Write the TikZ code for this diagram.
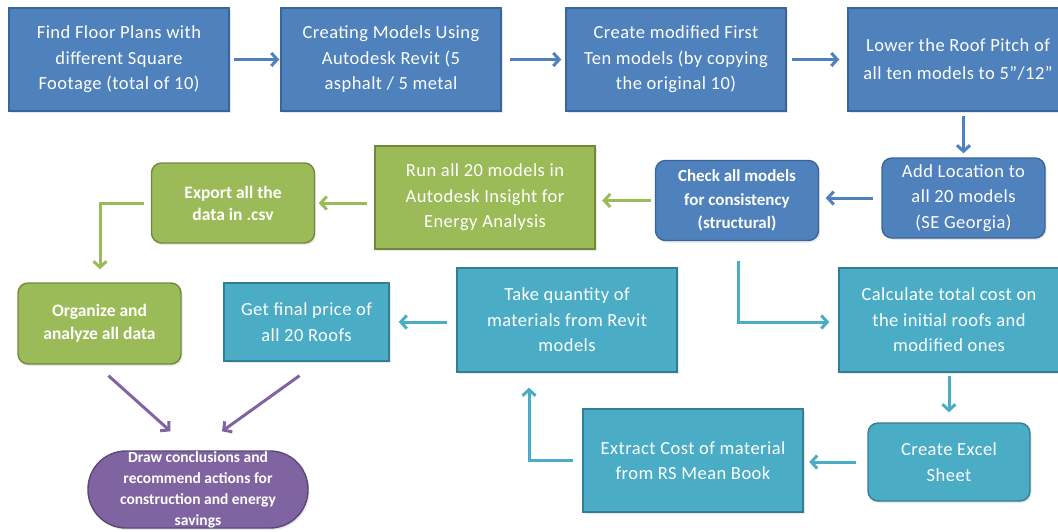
\documentclass[tikz,border=0pt]{standalone}
\usepackage{fontspec}
\setmainfont{Carlito}[LetterSpace=2.5]
\newfontfamily\boldfamily{Carlito}
\usepackage{xcolor}
\usetikzlibrary{arrows.meta,positioning,calc,shadows}
\definecolor{FlowBlue}{HTML}{4F81BD}
\definecolor{FlowBlueEdge}{HTML}{3A659A}
\definecolor{FlowGreen}{HTML}{9BBB59}
\definecolor{FlowGreenEdge}{HTML}{71893F}
\definecolor{FlowTeal}{HTML}{4BACC6}
\definecolor{FlowTealEdge}{HTML}{357D91}
\definecolor{FlowPurple}{HTML}{8064A2}
\definecolor{FlowPurpleEdge}{HTML}{5C4776}
\newcommand{\mainboxfont}{\fontsize{18.5}{25.5}\selectfont}
\newcommand{\boldboxfont}{\boldfamily\bfseries\fontsize{17}{23.5}\selectfont}
\newcommand{\flowbox}[4]{%
  \node[draw=#1Edge,fill=#1,line width=1.4pt,text=white,align=center,
        inner sep=0pt,minimum width=220pt,minimum height=103pt,
        drop shadow={opacity=0.18,shadow xshift=1.5pt,shadow yshift=-2pt},
        font=\mainboxfont,#4] (#2) {#3};%
}
\tikzset{
  flowarrow/.style={-{Straight Barb[length=6pt,width=13pt]},line width=3pt,
                    shorten <=4pt,shorten >=2pt},
  roundbox/.style={minimum width=163pt,minimum height=80pt,rounded corners=10pt},
}

\begin{document}
\begin{tikzpicture}[x=1pt,y=-1pt]
    \useasboundingbox (0,0) rectangle (1058,531);
    % top row
    \flowbox{FlowBlue}{find}{Find Floor Plans with\\different Square\\Footage (total of 10)}{at={(119,59.5)}}
    \flowbox{FlowBlue}{revit}{Creating Models Using\\Autodesk Revit (5\\asphalt / 5 metal}{at={(391,59.5)}}
    \flowbox{FlowBlue}{modify}{Create modified First\\Ten models (by copying\\the original 10)}{at={(676,59.5)}}
    \flowbox{FlowBlue}{pitch}{Lower the Roof Pitch of\\all ten models to 5”/12”}{at={(958,59.5)},font=\fontsize{18.5}{28}\selectfont}
    % second row
    \flowbox{FlowBlue}{location}{Add Location to\\all 20 models\\(SE Georgia)}{at={(963.5,198)},roundbox}
    \flowbox{FlowBlue}{check}{Check all models\\for consistency\\(structural)}{at={(737,200.5)},roundbox,font=\boldboxfont}
    \flowbox{FlowGreen}{insight}{Run all 20 models in\\Autodesk Insight for\\Energy Analysis}{at={(485,197.5)}}
    \flowbox{FlowGreen}{export}{Export all the\\data in .csv}{at={(233,203)},roundbox,font=\boldfamily\bfseries\fontsize{17.5}{22}\selectfont}
    % third row
    \flowbox{FlowGreen}{organize}{Organize and\\analyze all data}{at={(99.5,323.5)},roundbox,minimum height=81pt,font=\boldfamily\bfseries\fontsize{17.5}{23}\selectfont}
    \flowbox{FlowTeal}{price}{Get final price of\\all 20 Roofs}{at={(306.5,322)},minimum width=165pt,minimum height=78pt}
    \flowbox{FlowTeal}{quantity}{Take quantity of\\materials from Revit\\models}{at={(567,320)},minimum height=104pt}
    \flowbox{FlowTeal}{calc}{Calculate total cost on\\the initial roofs and\\modified ones}{at={(949,320)},minimum height=104pt}
    % bottom row
    \flowbox{FlowTeal}{excel}{Create Excel\\Sheet}{at={(949,462)},roundbox,minimum width=162pt,minimum height=78pt}
    \flowbox{FlowTeal}{extract}{Extract Cost of material\\from RS Mean Book}{at={(693,460.5)}}
    \flowbox{FlowPurple}{conclude}{Draw conclusions and\\recommend actions for\\construction and energy\\savings}{at={(198,489.5)},minimum height=77pt,rounded corners=38pt,font=\boldfamily\bfseries\fontsize{15.5}{21}\selectfont}
    % connectors
    \draw[flowarrow,FlowBlue,shorten >=1pt] (find) -- (revit);
    \draw[flowarrow,FlowBlue,shorten <=8pt,shorten >=4pt] (revit) -- (modify);
    \draw[flowarrow,FlowBlue,shorten <=5pt,shorten >=8pt] (modify) -- (pitch);
    \draw[flowarrow,FlowBlue,shorten >=4pt] (pitch.south -| location.north) -- (location.north);
    \draw[flowarrow,FlowBlue,shorten <=8.5pt,shorten >=6.5pt] (location.west) -- (location.west -| check.east);
    \draw[flowarrow,FlowGreen,shorten <=3.5pt,shorten >=6.5pt] (check.west) -- (check.west -| insight.east);
    \draw[flowarrow,FlowGreen,shorten <=7pt,shorten >=3.5pt] (insight.west |- export.east) -- (export.east);
    \draw[flowarrow,FlowGreen,shorten <=6.5pt,shorten >=13pt] (export.west) -| ([xshift=0.5pt]organize.north);
    \draw[flowarrow,FlowTeal,shorten <=19.5pt,shorten >=9pt] ([xshift=1pt]check.south) |- ([yshift=-2pt]calc.west);
    \draw[flowarrow,FlowTeal,shorten <=3pt,shorten >=10pt] (calc.south) -- (excel.north);
    \draw[flowarrow,FlowTeal,shorten <=11pt,shorten >=5.5pt] (excel.west) -- (excel.west -| extract.east);
    \draw[flowarrow,FlowTeal,shorten <=9pt,shorten >=15pt] (extract.west) -| ([xshift=-38pt]quantity.south);
    \draw[flowarrow,FlowTeal,shorten <=9pt,shorten >=9pt] (quantity.west |- price.east) -- (price.east);
    \draw[flowarrow,FlowPurple,shorten <=0pt,shorten >=0pt] ([xshift=9pt,yshift=-11pt]organize.south) -- ([xshift=-27.5pt,yshift=19pt]conclude.north);
    \draw[flowarrow,FlowPurple,shorten <=0pt,shorten >=0pt] ([xshift=-7pt,yshift=-14pt]price.south) -- ([xshift=24pt,yshift=19pt]conclude.north);
  \end{tikzpicture}
\end{document}
